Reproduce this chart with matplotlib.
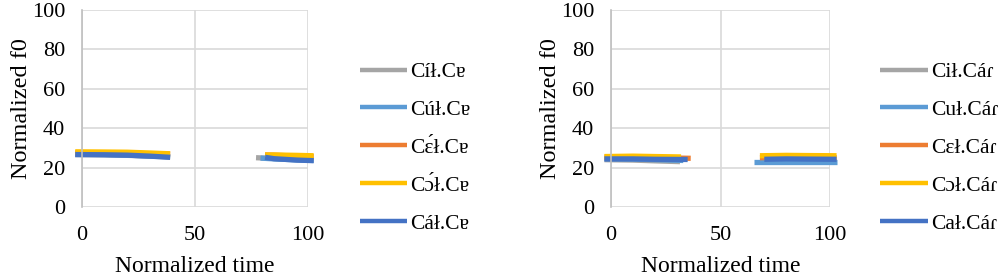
import matplotlib
matplotlib.use("Agg")
import matplotlib.pyplot as plt

plt.rcParams["font.family"] = ["Liberation Serif", "DejaVu Serif"]

# series colours in Excel default order
colors = ["#A5A5A5", "#5B9BD5", "#ED7D31", "#FFC000", "#4472C4"]

# left panel: labels and two voiced stretches per series
left_labels = ["Cíł.Cɐ", "Cúł.Cɐ", "Cɛ́ł.Cɐ", "Cɔ́ł.Cɐ", "Cáł.Cɐ"]
left_x1 = [-3, 10, 20, 30, 39]
left_y1 = [
    [26.6, 26.5, 26.2, 25.8, 25.4],  # gray
    [26.8, 26.6, 26.3, 25.9, 25.5],  # light blue
    [27.5, 27.4, 27.3, 27.0, 26.8],  # orange
    [28.0, 27.9, 27.8, 27.4, 27.0],  # yellow
    [26.6, 26.5, 26.3, 25.8, 25.2],  # dark blue
]
left_x2 = [
    [77, 85, 95, 102.5],
    [79, 85, 95, 102.5],
    [81, 85, 95, 102.5],
    [81, 85, 95, 102.5],
    [81, 85, 95, 102.5],
]
left_y2 = [
    [25.0, 24.6, 24.0, 23.7],
    [24.8, 24.4, 23.9, 23.6],
    [26.4, 26.3, 25.8, 25.5],
    [26.4, 26.4, 26.2, 26.0],
    [25.2, 24.5, 23.8, 23.5],
]

# right panel
right_labels = ["Cił.Cáɾ", "Cuł.Cáɾ", "Cɛł.Cáɾ", "Cɔł.Cáɾ", "Cał.Cáɾ"]
right_x1 = [
    [-3, 10, 20, 31.5],
    [-3, 10, 20, 33],
    [-3, 10, 20, 36.4],
    [-3, 10, 20, 32],
    [-3, 10, 20, 35],
]
right_y1 = [
    [24.0, 23.8, 23.4, 23.0],
    [24.5, 24.3, 24.0, 23.6],
    [25.3, 25.2, 25.0, 24.7],
    [25.6, 25.8, 25.6, 25.4],
    [24.4, 24.4, 24.2, 24.1],
]
right_x2 = [
    [68, 80, 90, 103],
    [65.3, 80, 90, 103],
    [68, 80, 90, 103],
    [68, 80, 90, 103],
    [70, 80, 90, 103],
]
right_y2 = [
    [23.5, 23.4, 23.3, 23.2],
    [23.0, 23.0, 23.0, 23.0],
    [25.0, 25.2, 25.1, 25.0],
    [26.0, 26.2, 26.1, 26.0],
    [24.2, 24.4, 24.3, 24.2],
]

x_ticks = [0, 50, 100]
y_ticks = [0, 20, 40, 60, 80, 100]


def draw_panel(ax, labels, x1, y1, x2, y2, legend_x):
    for i, lab in enumerate(labels):
        xa = x1 if not isinstance(x1[0], list) else x1[i]
        xb = x2[i]
        ax.plot(xa, y1[i], color=colors[i], lw=3.8, clip_on=False,
                solid_capstyle="butt", label=lab)
        ax.plot(xb, y2[i], color=colors[i], lw=3.8, clip_on=False,
                solid_capstyle="butt")
    ax.set_xlim(0, 100)
    ax.set_ylim(0, 100)
    ax.set_xticks(x_ticks)
    ax.set_yticks(y_ticks)
    ax.grid(True, color="#D9D9D9", lw=1.2)
    ax.set_axisbelow(True)
    for s in ["top", "right", "bottom"]:
        ax.spines[s].set_visible(False)
    ax.spines["left"].set_color("#BFBFBF")
    ax.spines["left"].set_linewidth(1.2)
    ax.tick_params(length=0, labelsize=16)
    ax.tick_params(axis="x", pad=14)
    ax.tick_params(axis="y", pad=12)
    ax.set_xlabel("Normalized time", fontsize=17, labelpad=8)
    ax.set_ylabel("Normalized f0", fontsize=17.5, labelpad=0)
    leg = ax.legend(loc="upper left", bbox_to_anchor=(legend_x, 0.78),
                    frameon=False, fontsize=15.5, handlelength=2.2,
                    handletextpad=0.15, labelspacing=0.83, borderaxespad=0)
    for h in leg.get_lines():
        h.set_linewidth(3.2)


fig = plt.figure(figsize=(10, 2.8), dpi=100)
ax1 = fig.add_axes([0.082, 0.261, 0.226, 0.703])
ax2 = fig.add_axes([0.611, 0.261, 0.219, 0.703])

draw_panel(ax1, left_labels, left_x1, left_y1, left_x2, left_y2, 1.19)
draw_panel(ax2, right_labels, right_x1, right_y1, right_x2, right_y2, 1.19)

fig.savefig("out.png", dpi=100)
